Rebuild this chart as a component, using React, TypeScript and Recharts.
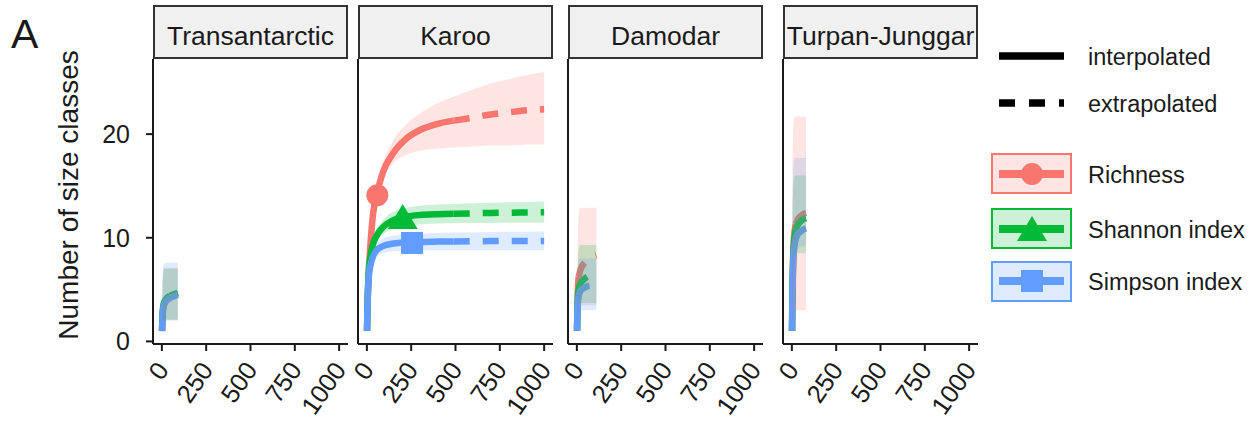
import React from "react";
import { ComposedChart, Line, Area, XAxis, YAxis, ReferenceDot } from "recharts";

const FONT = "'Liberation Sans', Arial, Helvetica, sans-serif";
const INK = "#1a1a1a";
const RED = "#F8766D";
const GREEN = "#00BA38";
const BLUE = "#619CFF";

const regions = ["Transantarctic", "Karoo", "Damodar", "Turpan-Junggar"];
const xTicks = [0, 250, 500, 750, 1000];
const yTicks = [0, 10, 20];
const measures = ["Richness", "Shannon index", "Simpson index"];

// Transantarctic
const transX = [1, 3, 6, 10, 20, 30, 45, 60, 75, 90];
const transSolidEnd = 45;
const transRich = [1, 2.2, 3.0, 3.5, 3.9, 4.1, 4.3, 4.4, 4.5, 4.5];
const transRichLo = [1, 1.6, 2.0, 2.1, 2.1, 2.1, 2.1, 2.1, 2.1, 2.1];
const transRichHi = [1, 4.5, 6.5, 7.0, 7.1, 7.1, 7.1, 7.1, 7.1, 7.1];
const transShan = [1, 2.3, 3.1, 3.6, 4.0, 4.2, 4.4, 4.5, 4.6, 4.7];
const transShanLo = [1, 1.7, 2.0, 2.1, 2.1, 2.1, 2.1, 2.1, 2.1, 2.1];
const transShanHi = [1, 4.5, 6.3, 6.9, 7.0, 7.0, 7.0, 7.0, 7.0, 7.0];
const transSimp = [1, 2.2, 2.9, 3.4, 3.8, 4.0, 4.2, 4.3, 4.4, 4.5];
const transSimpLo = [1, 1.6, 1.9, 2.0, 2.0, 2.0, 2.0, 2.0, 2.0, 2.0];
const transSimpHi = [1, 4.8, 6.8, 7.4, 7.6, 7.6, 7.6, 7.6, 7.6, 7.6];

// Karoo
const karooX = [1, 3, 6, 10, 20, 35, 55, 90, 150, 225, 300, 400, 490, 600, 700, 800, 900, 1000];
const karooSolidEnd = 490;
const karooRich = [1, 2.8, 4.6, 6.3, 9.3, 12.3, 14.1, 16.3, 18.2, 19.6, 20.4, 21.0, 21.3, 21.6, 21.9, 22.1, 22.3, 22.4];
const karooRichLo = [1, 2.7, 4.4, 6.0, 9.0, 11.9, 13.6, 15.6, 17.2, 18.0, 18.4, 18.6, 18.7, 18.8, 18.9, 18.9, 19.0, 19.0];
const karooRichHi = [1, 2.9, 4.8, 6.6, 9.7, 12.9, 15.0, 17.2, 19.4, 21.0, 22.0, 23.0, 23.6, 24.3, 24.9, 25.3, 25.7, 26.0];
const karooShan = [1, 3.2, 5.0, 6.6, 8.2, 9.4, 10.2, 11.0, 11.7, 12.05, 12.2, 12.28, 12.32, 12.36, 12.4, 12.42, 12.44, 12.46];
const karooShanLo = [1, 3.1, 4.8, 6.3, 7.8, 8.9, 9.6, 10.3, 10.9, 11.15, 11.3, 11.38, 11.4, 11.42, 11.43, 11.44, 11.45, 11.45];
const karooShanHi = [1, 3.3, 5.2, 6.9, 8.6, 9.9, 10.8, 11.7, 12.5, 12.9, 13.1, 13.2, 13.27, 13.33, 13.38, 13.42, 13.46, 13.5];
const karooSimp = [1, 3.0, 4.7, 6.0, 7.3, 8.2, 8.8, 9.2, 9.45, 9.55, 9.6, 9.63, 9.65, 9.67, 9.68, 9.69, 9.7, 9.7];
const karooSimpLo = [1, 2.9, 4.5, 5.8, 6.9, 7.7, 8.2, 8.5, 8.7, 8.75, 8.78, 8.8, 8.8, 8.8, 8.8, 8.8, 8.8, 8.8];
const karooSimpHi = [1, 3.1, 4.9, 6.3, 7.7, 8.7, 9.4, 9.9, 10.2, 10.35, 10.42, 10.46, 10.5, 10.52, 10.55, 10.57, 10.58, 10.6];
const karooMarkX = [59, 202, 255];
const karooMarkY = [14.1, 12.0, 9.5];

// Damodar
const damX = [1, 3, 6, 10, 20, 35, 55, 80, 110];
const damSolidEnd = 10;
const damRich = [1, 3.5, 5.2, 6.2, 6.9, 7.4, 7.8, 8.1, 8.3];
const damRichLo = [1, 2.5, 3.2, 3.4, 3.5, 3.5, 3.5, 3.5, 3.5];
const damRichHi = [1, 6.0, 10.0, 12.3, 12.9, 12.9, 12.9, 12.9, 12.9];
const damShan = [1, 3.0, 4.3, 5.0, 5.6, 5.9, 6.2, 6.4, 6.5];
const damShanLo = [1, 2.5, 3.3, 3.6, 3.7, 3.7, 3.7, 3.7, 3.7];
const damShanHi = [1, 5.0, 8.0, 9.0, 9.3, 9.3, 9.3, 9.3, 9.3];
const damSimp = [1, 2.7, 3.8, 4.4, 4.9, 5.1, 5.3, 5.4, 5.5];
const damSimpLo = [1, 2.3, 2.8, 3.0, 3.0, 3.0, 3.0, 3.0, 3.0];
const damSimpHi = [1, 4.5, 7.0, 7.8, 8.0, 8.0, 8.0, 8.0, 8.0];

// Turpan-Junggar
const tjX = [1, 2, 4, 7, 10, 15, 22, 35, 50, 65, 80];
const tjSolidEnd = 22;
const tjRich = [1, 3, 5.8, 8.2, 9.5, 10.6, 11.3, 11.8, 12.1, 12.3, 12.4];
const tjRichLo = [1, 1.5, 2.5, 2.9, 3.0, 3.0, 3.0, 3.0, 3.0, 3.0, 3.0];
const tjRichHi = [1, 8, 16, 20, 21.2, 21.6, 21.7, 21.7, 21.7, 21.7, 21.7];
const tjShan = [1, 2.8, 5.3, 7.6, 8.9, 10.0, 10.8, 11.3, 11.6, 11.8, 11.9];
const tjShanLo = [1, 2.0, 4.5, 6.5, 7.8, 8.3, 8.5, 8.5, 8.5, 8.5, 8.5];
const tjShanHi = [1, 5, 11, 14.5, 15.5, 15.9, 16.0, 16.0, 16.0, 16.0, 16.0];
const tjSimp = [1, 2.6, 5.0, 7.2, 8.4, 9.3, 9.9, 10.4, 10.6, 10.8, 10.9];
const tjSimpLo = [1, 2.0, 3.8, 5.8, 7.0, 8.0, 8.6, 9.0, 9.1, 9.2, 9.2];
const tjSimpHi = [1, 5.5, 12, 16, 17.2, 17.6, 17.7, 17.7, 17.7, 17.7, 17.7];

const buildRows = (xs: number[], solidEnd: number, s: number[][]) =>
  xs.map((x, i) => ({
    x,
    rI: x <= solidEnd ? s[0][i] : null,
    rE: x >= solidEnd ? s[0][i] : null,
    sI: x <= solidEnd ? s[3][i] : null,
    sE: x >= solidEnd ? s[3][i] : null,
    pI: x <= solidEnd ? s[6][i] : null,
    pE: x >= solidEnd ? s[6][i] : null,
    rB: [s[1][i], s[2][i]],
    sB: [s[4][i], s[5][i]],
    pB: [s[7][i], s[8][i]],
  }));

const panels = [
  { left: 153, rows: buildRows(transX, transSolidEnd, [transRich, transRichLo, transRichHi, transShan, transShanLo, transShanHi, transSimp, transSimpLo, transSimpHi]), marks: [] as number[][] },
  { left: 358, rows: buildRows(karooX, karooSolidEnd, [karooRich, karooRichLo, karooRichHi, karooShan, karooShanLo, karooShanHi, karooSimp, karooSimpLo, karooSimpHi]), marks: karooMarkX.map((x, i) => [x, karooMarkY[i]]) },
  { left: 568, rows: buildRows(damX, damSolidEnd, [damRich, damRichLo, damRichHi, damShan, damShanLo, damShanHi, damSimp, damSimpLo, damSimpHi]), marks: [] as number[][] },
  { left: 783, rows: buildRows(tjX, tjSolidEnd, [tjRich, tjRichLo, tjRichHi, tjShan, tjShanLo, tjShanHi, tjSimp, tjSimpLo, tjSimpHi]), marks: [] as number[][] },
];

const COLORS = [RED, GREEN, BLUE];
const PLOT_W = 195;
const PLOT_H = 285;
const PLOT_TOP = 59;
const X_H = 80;
const RIGHT_PAD = 16;

const Marker = ({ kind, cx, cy, color }: { kind: number; cx: number; cy: number; color: string }) => {
  if (kind === 0) return <circle cx={cx} cy={cy} r={11} fill={color} />;
  if (kind === 1)
    return <polygon points={`${cx},${cy - 13} ${cx + 15},${cy + 12} ${cx - 15},${cy + 12}`} fill={color} />;
  return <rect x={cx - 11} y={cy - 11} width={22} height={22} fill={color} />;
};

const XTick = (props: any) => {
  const { x, payload } = props;
  const ax = x + 8;
  const ay = PLOT_H + 26;
  return (
    <text
      x={ax}
      y={ay}
      transform={`rotate(-55, ${ax}, ${ay})`}
      textAnchor="end"
      fontSize={25.5}
      fontFamily={FONT}
      fill={INK}
    >
      {payload.value}
    </text>
  );
};

const Panel = ({ idx }: { idx: number }) => {
  const p = panels[idx];
  const yw = idx === 0 ? 60 : 30;
  const keys = [
    ["rI", "rE", "rB"],
    ["sI", "sE", "sB"],
    ["pI", "pE", "pB"],
  ];
  return (
    <div style={{ position: "absolute", left: p.left - yw, top: PLOT_TOP }}>
      <ComposedChart
        width={yw + PLOT_W + RIGHT_PAD}
        height={PLOT_H + X_H}
        data={p.rows}
        margin={{ top: 0, right: RIGHT_PAD, bottom: 0, left: 0 }}
      >
        <XAxis
          dataKey="x"
          type="number"
          domain={[-50, 1050]}
          ticks={xTicks}
          allowDataOverflow
          height={X_H}
          tickSize={7}
          tickMargin={0}
          interval={0}
          axisLine={{ stroke: INK, strokeWidth: 2 }}
          tickLine={{ stroke: INK, strokeWidth: 2 }}
          tick={<XTick />}
        />
        <YAxis
          type="number"
          domain={[-0.25, 27.25]}
          ticks={yTicks}
          allowDataOverflow
          width={yw}
          tickSize={idx === 0 ? 7 : 0}
          tickMargin={16}
          axisLine={{ stroke: INK, strokeWidth: 2 }}
          tickLine={idx === 0 ? { stroke: INK, strokeWidth: 2 } : false}
          tick={idx === 0 ? { fontSize: 25, fill: INK, fontFamily: FONT } : false}
        />
        {keys.map((k, i) => (
          <Line
            key={k[0]}
            dataKey={k[0]}
            type="monotone"
            stroke={COLORS[i]}
            strokeWidth={6.5}
            dot={false}
            activeDot={false}
            isAnimationActive={false}
          />
        ))}
        {keys.map((k, i) => (
          <Line
            key={k[1]}
            dataKey={k[1]}
            type="monotone"
            stroke={COLORS[i]}
            strokeWidth={6.5}
            strokeDasharray="16 13"
            dot={false}
            activeDot={false}
            isAnimationActive={false}
          />
        ))}
        {p.marks.map((m, i) => (
          <ReferenceDot
            key={`m${i}`}
            x={m[0]}
            y={m[1]}
            r={11}
            ifOverflow="visible"
            shape={(sp: any) => <Marker kind={i} cx={sp.cx} cy={sp.cy} color={COLORS[i]} />}
          />
        ))}
        {keys.map((k, i) => (
          <Area
            key={k[2]}
            dataKey={k[2]}
            type="monotone"
            stroke="none"
            fill={COLORS[i]}
            fillOpacity={0.2}
            dot={false}
            activeDot={false}
            isAnimationActive={false}
            zIndex={450}
          />
        ))}
      </ComposedChart>
    </div>
  );
};

const legendBoxes = [
  { y: 154, line: 174 },
  { y: 209, line: 229 },
  { y: 262, line: 281 },
];

export default function App() {
  return (
    <div style={{ position: "absolute", left: 0, top: 0, width: 1250, height: 423, background: "#fff", fontFamily: FONT }}>
      {panels.map((_, i) => (
        <Panel key={i} idx={i} />
      ))}
      <svg width={1250} height={423} style={{ position: "absolute", left: 0, top: 0, pointerEvents: "none" }}>
        <text x={11} y={48} fontSize={41} fontFamily={FONT} fill={INK}>A</text>
        <text
          x={78}
          y={195}
          transform="rotate(-90, 78, 195)"
          textAnchor="middle"
          fontSize={28}
          fontFamily={FONT}
          fill={INK}
        >
          Number of size classes
        </text>
        {panels.map((p, i) => (
          <g key={regions[i]}>
            <rect x={p.left + 1} y={6} width={PLOT_W - 2} height={52} fill="#F0F0F0" stroke="#333" strokeWidth={2} />
            <text x={p.left + PLOT_W / 2} y={45} textAnchor="middle" fontSize={26.5} fontFamily={FONT} fill={INK}>
              {regions[i]}
            </text>
          </g>
        ))}
        <line x1={999} x2={1064} y1={56} y2={56} stroke="#000" strokeWidth={7.5} />
        <text x={1088} y={64.5} fontSize={23.5} fontFamily={FONT} fill={INK}>interpolated</text>
        <line x1={999} x2={1064} y1={103} y2={103} stroke="#000" strokeWidth={7.5} strokeDasharray="16 14" />
        <text x={1088} y={111.5} fontSize={23.5} fontFamily={FONT} fill={INK}>extrapolated</text>
        {legendBoxes.map((b, i) => (
          <g key={measures[i]}>
            <rect x={992} y={b.y} width={79} height={39} fill={COLORS[i]} fillOpacity={0.2} stroke={COLORS[i]} strokeWidth={2} />
            <line x1={999} x2={1064} y1={b.line} y2={b.line} stroke={COLORS[i]} strokeWidth={8} />
            <Marker kind={i} cx={1032} cy={b.line} color={COLORS[i]} />
            <text x={1088} y={b.line + 9} fontSize={23.5} fontFamily={FONT} fill={INK}>
              {measures[i]}
            </text>
          </g>
        ))}
      </svg>
    </div>
  );
}
